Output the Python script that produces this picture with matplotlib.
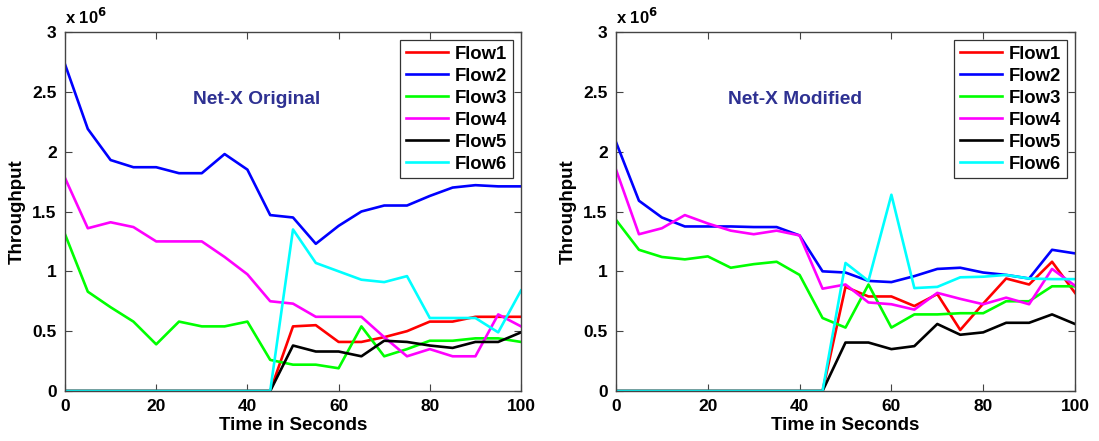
import matplotlib
matplotlib.use("Agg")
import matplotlib.pyplot as plt
import numpy as np

plt.rcParams['font.family'] = ['Liberation Sans', 'DejaVu Sans']
plt.rcParams['font.weight'] = 'bold'

time_s = list(range(0, 101, 5))

# Net-X Original (throughput in units of 1e6)
orig_flow1 = [0, 0, 0, 0, 0, 0, 0, 0, 0, 0, 0.54, 0.55, 0.41, 0.41, 0.45, 0.50, 0.58, 0.58, 0.62, 0.62, 0.62]
orig_flow2 = [2.73, 2.19, 1.93, 1.87, 1.87, 1.82, 1.82, 1.98, 1.85, 1.47, 1.45, 1.23, 1.38, 1.50, 1.55, 1.55, 1.63, 1.70, 1.72, 1.71, 1.71]
orig_flow3 = [1.31, 0.83, 0.70, 0.58, 0.39, 0.58, 0.54, 0.54, 0.58, 0.26, 0.22, 0.22, 0.19, 0.54, 0.29, 0.35, 0.42, 0.42, 0.44, 0.44, 0.41]
orig_flow4 = [1.78, 1.36, 1.41, 1.37, 1.25, 1.25, 1.25, 1.12, 0.975, 0.75, 0.73, 0.62, 0.62, 0.62, 0.45, 0.29, 0.35, 0.29, 0.29, 0.64, 0.54]
orig_flow5 = [0, 0, 0, 0, 0, 0, 0, 0, 0, 0, 0.38, 0.33, 0.33, 0.29, 0.42, 0.41, 0.38, 0.36, 0.41, 0.41, 0.49]
orig_flow6 = [0, 0, 0, 0, 0, 0, 0, 0, 0, 0, 1.35, 1.07, 1.00, 0.93, 0.91, 0.96, 0.61, 0.61, 0.61, 0.49, 0.84]

# Net-X Modified
mod_flow1 = [0, 0, 0, 0, 0, 0, 0, 0, 0, 0, 0.87, 0.79, 0.79, 0.71, 0.81, 0.51, 0.73, 0.94, 0.89, 1.08, 0.82]
mod_flow2 = [2.08, 1.59, 1.45, 1.375, 1.375, 1.375, 1.37, 1.37, 1.30, 1.00, 0.99, 0.92, 0.91, 0.96, 1.02, 1.03, 0.99, 0.97, 0.94, 1.18, 1.15]
mod_flow3 = [1.43, 1.18, 1.12, 1.10, 1.125, 1.03, 1.06, 1.08, 0.97, 0.61, 0.53, 0.89, 0.53, 0.64, 0.64, 0.65, 0.65, 0.75, 0.75, 0.875, 0.875]
mod_flow4 = [1.85, 1.31, 1.36, 1.47, 1.40, 1.34, 1.31, 1.34, 1.30, 0.855, 0.89, 0.74, 0.725, 0.68, 0.82, 0.77, 0.725, 0.78, 0.725, 1.02, 0.88]
mod_flow5 = [0, 0, 0, 0, 0, 0, 0, 0, 0, 0, 0.405, 0.405, 0.35, 0.375, 0.56, 0.47, 0.49, 0.57, 0.57, 0.64, 0.56]
mod_flow6 = [0, 0, 0, 0, 0, 0, 0, 0, 0, 0, 1.07, 0.92, 1.64, 0.86, 0.87, 0.95, 0.955, 0.97, 0.94, 0.935, 0.935]

flow_names = ['Flow1', 'Flow2', 'Flow3', 'Flow4', 'Flow5', 'Flow6']
flow_colors = ['#ff0000', '#0000ff', '#00ff00', '#ff00ff', '#000000', '#00ffff']
panel_titles = ['Net-X Original', 'Net-X Modified']
x_ticks = [0, 20, 40, 60, 80, 100]
y_ticks = [0, 0.5, 1, 1.5, 2, 2.5, 3]
y_tick_labels = ['0', '0.5', '1', '1.5', '2', '2.5', '3']

panels = [
    [orig_flow1, orig_flow2, orig_flow3, orig_flow4, orig_flow5, orig_flow6],
    [mod_flow1, mod_flow2, mod_flow3, mod_flow4, mod_flow5, mod_flow6],
]

fig = plt.figure(figsize=(10.99, 4.41), dpi=100)
ax_rects = [
    [65 / 1099, 50 / 441, 456 / 1099, 359 / 441],
    [616 / 1099, 50 / 441, 459 / 1099, 359 / 441],
]
title_pos = [(42, 2.44), (39, 2.44)]

for rect, series, title, tpos in zip(ax_rects, panels, panel_titles, title_pos):
    ax = fig.add_axes(rect)
    for vals, name, col in zip(series, flow_names, flow_colors):
        ax.plot(time_s, vals, color=col, lw=1.9, label=name)
    ax.set_xlim(0, 100)
    ax.set_ylim(0, 3)
    ax.set_xticks(x_ticks)
    ax.set_yticks(y_ticks)
    ax.set_yticklabels(y_tick_labels)
    ax.tick_params(direction='in', length=5, labelsize=12.5, top=True, right=True,
                   pad=6, color='#444444')
    for lab in ax.get_xticklabels() + ax.get_yticklabels():
        lab.set_fontweight('bold')
    for sp in ax.spines.values():
        sp.set_linewidth(1.0)
        sp.set_color('#444444')
    ax.set_xlabel('Time in Seconds', fontsize=13.5, fontweight='bold', labelpad=2)
    ax.set_ylabel('Throughput', fontsize=13.5, fontweight='bold', labelpad=5)
    ax.text(0, 1.015, r'x 10$^{6}$', transform=ax.transAxes, fontsize=12,
            fontweight='bold', ha='left', va='bottom')
    ax.text(tpos[0], tpos[1], title, color='#2e3192', fontsize=13.8,
            fontweight='bold', ha='center', va='center')
    leg = ax.legend(loc='upper right', fontsize=13.3, frameon=True, fancybox=False,
                    edgecolor='black', handlelength=2.3, handletextpad=0.35,
                    borderpad=0.3, labelspacing=0.27, borderaxespad=0.45)
    leg.get_frame().set_linewidth(0.9)
    for t in leg.get_texts():
        t.set_fontweight('bold')

fig.savefig('out.png', dpi=100)
